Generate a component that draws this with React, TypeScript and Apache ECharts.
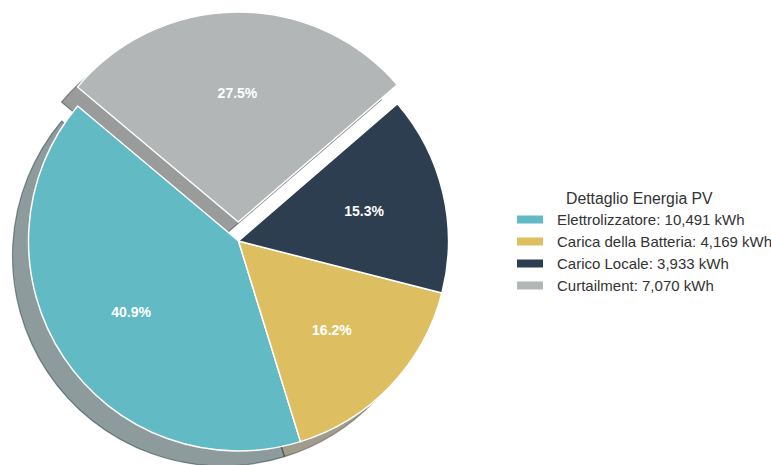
import React, { useEffect, useRef } from "react";
import * as echarts from "echarts";

// PV energy breakdown (kWh)
const categories = ["Elettrolizzatore", "Carica della Batteria", "Carico Locale", "Curtailment"];
const energyKWh = [10491, 4169, 3933, 7070];
const sliceColors = ["#62BAC4", "#DDBF62", "#2C3E50", "#B3B6B7"];
const explodedSlice = "Curtailment";
const legendTitle = "Dettaglio Energia PV";

const CENTER: [number, number] = [238.5, 241];
const RADIUS = 210;
const SHADOW_DX = -16;
const SHADOW_DY = 15;
const EXPLODE = 19;
const FONT = "'Liberation Sans', Arial, Helvetica, sans-serif";

// darkened, half-transparent copy of a colour for the drop shadow
function shadowColor(hex: string): string {
  const n = parseInt(hex.slice(1), 16);
  const r = Math.round(((n >> 16) & 255) * 0.3);
  const g = Math.round(((n >> 8) & 255) * 0.3);
  const b = Math.round((n & 255) * 0.3);
  return `rgba(${r},${g},${b},0.5)`;
}

export default function App() {
  const ref = useRef<HTMLDivElement>(null);

  useEffect(() => {
    if (!ref.current) return;
    const chart = echarts.init(ref.current, undefined, { renderer: "svg" });
    const total = energyKWh.reduce((a, b) => a + b, 0);

    const baseData = categories.map((name, i) => ({
      name,
      value: energyKWh[i],
      selected: name === explodedSlice,
    }));

    const common = {
      type: "pie" as const,
      startAngle: 140,
      clockwise: false,
      selectedMode: "multiple" as const,
      selectedOffset: EXPLODE,
      avoidLabelOverlap: false,
      emphasis: { disabled: true },
    };

    chart.setOption({
      animation: false,
      title: {
        text: legendTitle,
        left: 566,
        top: 190,
        padding: 0,
        textStyle: { fontFamily: FONT, fontSize: 15.8, fontWeight: "normal", color: "#333333" },
      },
      legend: {
        orient: "vertical",
        left: 515,
        top: 211,
        padding: 0,
        itemWidth: 28,
        itemHeight: 10,
        itemGap: 5,
        icon: "rect",
        selectedMode: false,
        data: categories,
        textStyle: {
          fontFamily: FONT,
          fontSize: 15,
          color: "#333333",
          lineHeight: 17,
          padding: [0, 0, 0, 8],
        },
        formatter: (name: string) => {
          const v = energyKWh[categories.indexOf(name)];
          return `${name}: ${v.toLocaleString("en-US")} kWh`;
        },
      },
      series: [
        {
          ...common,
          name: "main",
          z: 3,
          center: CENTER,
          radius: [0, RADIUS],
          data: baseData.map((d, i) => {
            const style = { color: sliceColors[i], borderColor: "#ffffff", borderWidth: 1.5 };
            return { ...d, itemStyle: style, select: { itemStyle: style } };
          }),
          label: { show: false },
          labelLine: { show: false },
        },
        {
          ...common,
          name: "shadow",
          z: 1,
          center: [CENTER[0] + SHADOW_DX, CENTER[1] + SHADOW_DY],
          radius: [0, RADIUS],
          data: baseData.map((d, i) => {
            const style = {
              color: shadowColor(sliceColors[i]),
              borderColor: shadowColor(sliceColors[i]),
              borderWidth: 1.2,
            };
            return { ...d, itemStyle: style, select: { itemStyle: style } };
          }),
          label: { show: false },
          labelLine: { show: false },
        },
        {
          // transparent pie 1.2x wider: its inside labels sit at 0.6 of the drawn radius
          ...common,
          name: "labels",
          z: 4,
          center: CENTER,
          radius: [0, RADIUS * 1.2],
          data: baseData.map((d) => {
            const style = { color: "rgba(0,0,0,0)", borderWidth: 0 };
            return { ...d, itemStyle: style, select: { itemStyle: style } };
          }),
          label: {
            show: true,
            position: "inside",
            formatter: (p: any) => ((p.value / total) * 100).toFixed(1) + "%",
            color: "#ffffff",
            fontFamily: FONT,
            fontSize: 14,
            fontWeight: "bold",
          },
          labelLine: { show: false },
        },
      ],
    });

    return () => chart.dispose();
  }, []);

  return (
    <div
      ref={ref}
      style={{ position: "absolute", left: 0, top: 0, width: 771, height: 465, background: "#ffffff" }}
    />
  );
}
